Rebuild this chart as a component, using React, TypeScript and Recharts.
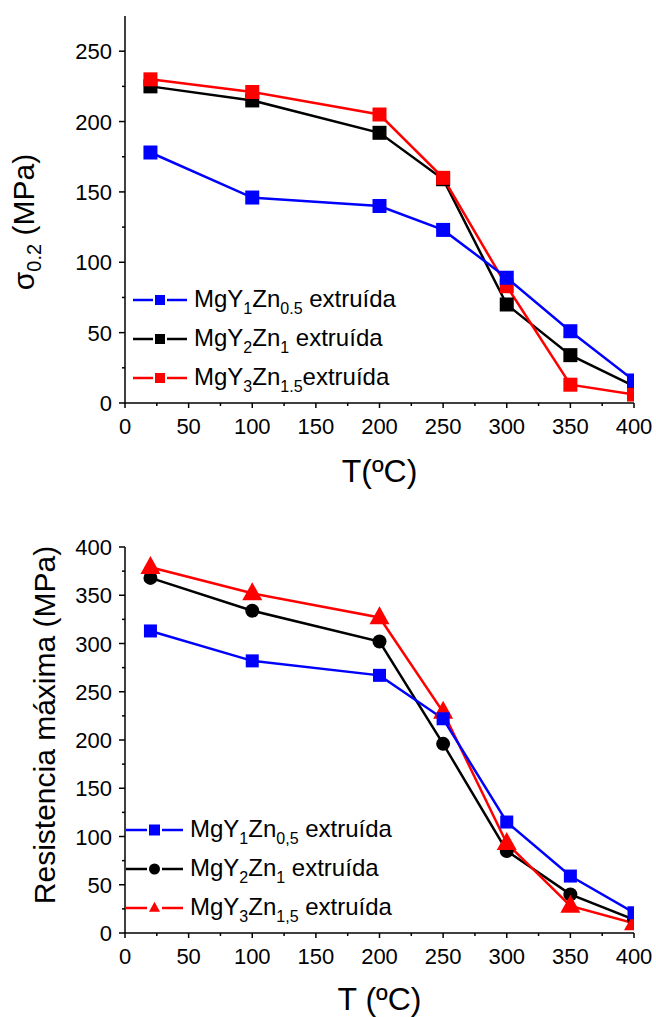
import React from "react";
import { LineChart, Line, XAxis, YAxis, Legend, Label } from "recharts";

// temperatures (ºC)
const temperatures = [20, 100, 200, 250, 300, 350, 400];

// yield strength σ0.2 (MPa)
const yieldMgY1Zn05 = [178, 146, 140, 123, 89, 51, 16];
const yieldMgY2Zn1 = [225, 215, 192, 159, 70, 34, 12];
const yieldMgY3Zn15 = [230, 221, 205, 160, 83, 13, 6];

// maximum strength (MPa)
const strengthMgY1Zn05 = [313, 282, 267, 222, 115, 59, 21];
const strengthMgY2Zn1 = [368, 334, 302, 196, 85, 40, 14];
const strengthMgY3Zn15 = [379, 352, 327, 229, 93, 28, 10];

const xTicks = [0, 25, 50, 75, 100, 125, 150, 175, 200, 225, 250, 275, 300, 325, 350, 375, 400];
const yieldTicks = [0, 25, 50, 75, 100, 125, 150, 175, 200, 225, 250];
const strengthTicks = [0, 25, 50, 75, 100, 125, 150, 175, 200, 225, 250, 275, 300, 325, 350, 375, 400];

const yieldData = temperatures.map((t, i) => ({
  T: t,
  a: yieldMgY1Zn05[i],
  b: yieldMgY2Zn1[i],
  c: yieldMgY3Zn15[i],
}));

const strengthData = temperatures.map((t, i) => ({
  T: t,
  a: strengthMgY1Zn05[i],
  b: strengthMgY2Zn1[i],
  c: strengthMgY3Zn15[i],
}));

const FONT = '"Liberation Sans", Arial, Helvetica, sans-serif';

type Shape = "square" | "circle" | "triangle";

const Marker = ({ shape, cx, cy, color, size }: any) => {
  if (cx == null || cy == null) return null;
  if (shape === "square")
    return <rect x={cx - size / 2} y={cy - size / 2} width={size} height={size} fill={color} />;
  if (shape === "circle") return <circle cx={cx} cy={cy} r={size / 2} fill={color} />;
  const h = size * 0.9;
  return (
    <polygon
      points={`${cx},${cy - h * 0.62} ${cx - size / 2},${cy + h * 0.38} ${cx + size / 2},${cy + h * 0.38}`}
      fill={color}
    />
  );
};

const YTick = (props: any) => {
  const { x, y, payload } = props;
  const major = payload.value % 50 === 0;
  return (
    <g>
      <line x1={x} x2={x - (major ? 6 : 3)} y1={y} y2={y} stroke="#000" strokeWidth={1.5} />
      {major && (
        <text x={x - 13} y={y + 8} textAnchor="end" fontSize={22} fill="#000">
          {payload.value}
        </text>
      )}
    </g>
  );
};

const XTick = (props: any) => {
  const { x, y, payload } = props;
  const major = payload.value % 50 === 0;
  return (
    <g>
      <line x1={x} x2={x} y1={y} y2={y + (major ? 5 : 3)} stroke="#000" strokeWidth={1.5} />
      {major && (
        <text x={x} y={y + 31} textAnchor="middle" fontSize={22} fill="#000">
          {payload.value}
        </text>
      )}
    </g>
  );
};

type Series = {
  key: string;
  color: string;
  label: [string, string, string, string, string];
};

// drawing order: black, red, blue (blue ends on top)
const yieldSeries: Series[] = [
  { key: "a", color: "#0000ff", label: ["MgY", "1", "Zn", "0.5", " extruída"] },
  { key: "b", color: "#000000", label: ["MgY", "2", "Zn", "1", " extruída"] },
  { key: "c", color: "#ff0000", label: ["MgY", "3", "Zn", "1.5", "extruída"] },
];
const strengthSeries: Series[] = [
  { key: "a", color: "#0000ff", label: ["MgY", "1", "Zn", "0,5", " extruída"] },
  { key: "b", color: "#000000", label: ["MgY", "2", "Zn", "1", " extruída"] },
  { key: "c", color: "#ff0000", label: ["MgY", "3", "Zn", "1,5", " extruída"] },
];

const subStyle: React.CSSProperties = {
  fontSize: 16,
  position: "relative",
  top: 7,
  verticalAlign: "baseline",
};

const makeLegend =
  (series: Series[], shapes: Shape[], seg: number, gap: number, mk: number, textGap: number) =>
  () => (
    <div style={{ fontFamily: FONT }}>
      {series.map((s, i) => {
        const w = seg * 2 + gap * 2 + mk;
        return (
          <div key={s.key} style={{ display: "flex", alignItems: "center", height: 39, lineHeight: "39px" }}>
            <svg width={w + textGap} height={20} style={{ display: "block" }}>
              <line x1={0} x2={seg} y1={10} y2={10} stroke={s.color} strokeWidth={2.5} />
              <line x1={w - seg} x2={w} y1={10} y2={10} stroke={s.color} strokeWidth={2.5} />
              <Marker shape={shapes[i]} cx={w / 2} cy={10} color={s.color} size={mk} />
            </svg>
            <span style={{ fontSize: 24, color: "#000", whiteSpace: "pre" }}>
              {s.label[0]}
              <span style={subStyle}>{s.label[1]}</span>
              {s.label[2]}
              <span style={subStyle}>{s.label[3]}</span>
              {s.label[4]}
            </span>
          </div>
        );
      })}
    </div>
  );

const axisLine = { stroke: "#000", strokeWidth: 1.5 };

const Panel = ({
  data,
  series,
  shapes,
  markerSizes,
  yDomain,
  yTicks,
  marginTop,
  marginBottom,
  height,
  xTitle,
  xTitleOffset,
  yTitle,
  legendPos,
  legendGeom,
}: any) => {
  const order = [1, 2, 0];
  return (
    <LineChart
      width={656}
      height={height}
      data={data}
      margin={{ top: marginTop, right: 22, left: 0, bottom: marginBottom }}
    >
      <XAxis
        dataKey="T"
        type="number"
        domain={[0, 400]}
        ticks={xTicks}
        interval={0}
        allowDataOverflow
        height={80}
        tickSize={0}
        tickMargin={0}
        tickLine={false}
        tick={<XTick />}
        axisLine={axisLine}
      >
        <Label
          content={(p: any) => {
            const vb = p.viewBox || { x: 125, y: 0, width: 509 };
            return (
              <text x={vb.x + vb.width / 2} y={vb.y + xTitleOffset} textAnchor="middle" fontSize={32} fill="#000">
                {xTitle}
              </text>
            );
          }}
        />
      </XAxis>
      <XAxis
        xAxisId="top"
        orientation="top"
        type="number"
        domain={[0, 400]}
        height={0}
        tick={false}
        tickLine={false}
        axisLine={axisLine}
      />
      <YAxis
        type="number"
        domain={yDomain}
        ticks={yTicks}
        interval={0}
        width={125}
        tickSize={0}
        tickMargin={0}
        tickLine={false}
        tick={<YTick />}
        axisLine={axisLine}
      >
        <Label content={() => yTitle} />
      </YAxis>
      <YAxis
        yAxisId="right"
        orientation="right"
        type="number"
        domain={yDomain}
        width={0}
        tick={false}
        tickLine={false}
        axisLine={axisLine}
      />
      <Legend
        layout="vertical"
        align="center"
        verticalAlign="middle"
        wrapperStyle={{ left: legendPos[0], top: legendPos[1], width: "auto" }}
        content={makeLegend(series, shapes, legendGeom[0], legendGeom[1], legendGeom[2], legendGeom[3])}
      />
      {order.map((i) => {
        const s = series[i];
        return (
          <Line
            key={s.key}
            dataKey={s.key}
            stroke={s.color}
            strokeWidth={2.5}
            isAnimationActive={false}
            legendType="none"
            dot={(p: any) => (
              <Marker
                key={`${s.key}-${p.index}`}
                shape={shapes[i]}
                cx={p.cx}
                cy={p.cy}
                color={s.color}
                size={markerSizes[i]}
              />
            )}
            activeDot={false}
          />
        );
      })}
    </LineChart>
  );
};

export default function App() {
  return (
    <div
      style={{
        position: "absolute",
        left: 0,
        top: 0,
        width: 656,
        height: 1017,
        background: "#fff",
        fontFamily: FONT,
      }}
    >
      <div style={{ position: "absolute", left: 0, top: 0 }}>
        <Panel
          data={yieldData}
          series={yieldSeries}
          shapes={["square", "square", "square"]}
          markerSizes={[14, 14, 14]}
          yDomain={[0, 275]}
          yTicks={yieldTicks}
          marginTop={16}
          marginBottom={17}
          height={500}
          xTitle="T(ºC)"
          xTitleOffset={79}
          yTitle={
            <text transform="rotate(-90 34 222)" x={34} y={222} textAnchor="middle" fontSize={30} fill="#000">
              σ<tspan dy={7} fontSize={20}>0.2</tspan>
              <tspan dy={-7}> (MPa)</tspan>
            </text>
          }
          legendPos={[133, 280]}
          legendGeom={[20, 2, 10, 7]}
        />
      </div>
      <div style={{ position: "absolute", left: 0, top: 520 }}>
        <Panel
          data={strengthData}
          series={strengthSeries}
          shapes={["square", "circle", "triangle"]}
          markerSizes={[13, 14, 20]}
          yDomain={[0, 400]}
          yTicks={strengthTicks}
          marginTop={27}
          marginBottom={4}
          height={497}
          xTitle="T (ºC)"
          xTitleOffset={77}
          yTitle={
            <text transform="rotate(-90 55 205)" x={55} y={205} textAnchor="middle" fontSize={30} fill="#000">
              Resistencia máxima (MPa)
            </text>
          }
          legendPos={[126, 290]}
          legendGeom={[21, 2, 11, 7]}
        />
      </div>
    </div>
  );
}
